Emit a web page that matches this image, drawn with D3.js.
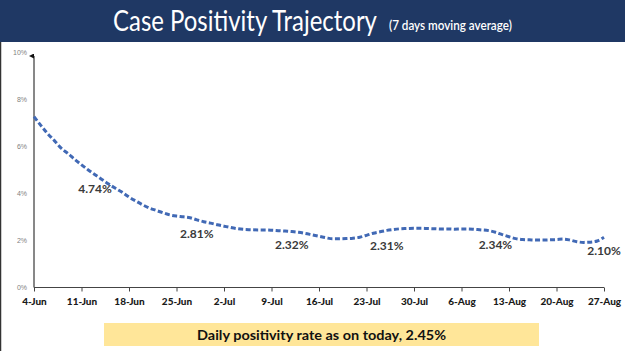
<!DOCTYPE html>
<html><head><meta charset="utf-8">
<script src="https://cdn.jsdelivr.net/npm/d3@7"></script>
<style>body{margin:0;background:#fff}svg{display:block}</style>
</head><body><svg id="c" width="625" height="351"></svg>
<script>
// ---- data ----
const tickLabels = ["4-Jun","11-Jun","18-Jun","25-Jun","2-Jul","9-Jul","16-Jul","23-Jul","30-Jul","6-Aug","13-Aug","20-Aug","27-Aug"];
const tickDays = [0,7,14,21,28,35,42,49,56,63,70,77,84];
// 7-day moving average positivity (%), one value per day from 4-Jun to 27-Aug
const positivity = [
  7.27,6.90,6.55,6.25,5.93,5.70,5.45,5.22,5.00,4.80,
  4.60,4.40,4.22,4.05,3.85,3.68,3.52,3.38,3.28,3.18,
  3.09,3.04,3.01,2.97,2.88,2.80,2.74,2.67,2.61,2.55,
  2.50,2.47,2.46,2.45,2.45,2.44,2.42,2.40,2.38,2.35,
  2.30,2.24,2.18,2.12,2.07,2.07,2.08,2.10,2.14,2.22,
  2.31,2.37,2.43,2.47,2.50,2.51,2.52,2.52,2.51,2.50,
  2.49,2.49,2.48,2.49,2.49,2.47,2.45,2.42,2.35,2.25,
  2.16,2.08,2.04,2.03,2.02,2.02,2.03,2.04,2.06,2.02,
  1.95,1.92,1.93,1.98,2.14
];
const labelDays = [9,24,38,52,68,84];
const labelValues = [4.74,2.81,2.32,2.31,2.34,2.10];
const yTicks = [0,2,4,6,8,10];
const titleText = "Case Positivity Trajectory";
const subtitleText = "(7 days moving average)";
const bannerText = "Daily positivity rate as on today, 2.45%";

// ---- drawing ----
const svg = d3.select("#c");
const x = d3.scaleLinear().domain([0,84]).range([34,604]);
const y = d3.scaleLinear().domain([0,10]).range([287.5,52.5]);

// fit text horizontally to a target width by scaling its group
function fitText(gx, gy, width, size, weight, fill, str){
  const g = svg.append("g");
  const t = g.append("text").attr("x",0).attr("y",0).attr("fill",fill)
    .attr("font-family","Lato, 'Open Sans', sans-serif").attr("font-size",size)
    .attr("font-weight",weight).text(str);
  const w = t.node().getComputedTextLength();
  g.attr("transform",`translate(${gx},${gy}) scale(${width/w},1)`);
  return g;
}

// header
svg.append("rect").attr("x",0).attr("y",0).attr("width",625).attr("height",42).attr("fill","#1f3864");
svg.append("line").attr("x1",0.5).attr("x2",0.5).attr("y1",42).attr("y2",351).attr("stroke","#333").attr("stroke-width",1.5);
fitText(113,31,264,28,400,"#fff",titleText);
fitText(389,30,123,12.5,600,"#fff",subtitleText);

// defs arrow
svg.append("defs").append("marker").attr("id","arr").attr("viewBox","0 0 10 10")
  .attr("refX",5).attr("refY",10).attr("markerWidth",5).attr("markerHeight",5)
  .attr("orient","auto-start-reverse").attr("markerUnits","userSpaceOnUse")
  .append("path").attr("d","M0,10 L5,0 L10,10 Z").attr("fill","#111");

// y axis
const ya = svg.append("g").attr("transform","translate(34,0)")
  .call(d3.axisLeft(y).tickValues(yTicks).tickSize(0).tickPadding(7).tickFormat(d=>d+"%"));
ya.select(".domain").remove();
ya.selectAll("text").attr("fill","#7f7f7f").attr("font-family","'Liberation Sans', Arial, sans-serif").attr("font-size",7);
svg.append("line").attr("x1",34).attr("x2",34).attr("y1",287.5).attr("y2",56)
  .attr("stroke","#111").attr("stroke-width",1).attr("marker-end","url(#arr)");

// x axis
const xa = svg.append("g").attr("transform","translate(0,287.5)")
  .call(d3.axisBottom(x).tickValues(tickDays).tickSize(4).tickPadding(6).tickFormat((d,i)=>tickLabels[i]));
xa.select(".domain").attr("stroke","#444").attr("d","M34,0H604");
xa.selectAll(".tick line").attr("stroke","#444");
xa.selectAll("text").attr("fill","#1a1a1a").attr("font-family","Lato, sans-serif").attr("font-weight",900).attr("font-size",10);

// line
const line = d3.line().x((d,i)=>x(i)).y(d=>y(d)).curve(d3.curveMonotoneX);
svg.append("path").datum(positivity).attr("d",line).attr("fill","none")
  .attr("stroke","#4169b5").attr("stroke-width",3).attr("stroke-dasharray","5,2.5");

// labels
svg.selectAll(".lbl").data(labelValues).enter().append("text").attr("class","lbl")
  .attr("x",(d,i)=>x(labelDays[i])).attr("y",d=>y(d)+16.5)
  .attr("text-anchor","middle").attr("fill","#3a3a3a")
  .attr("font-family","Lato, sans-serif").attr("font-weight",700).attr("font-size",12)
  .text(d=>d.toFixed(2)+"%");

// banner
svg.append("rect").attr("x",104).attr("y",323).attr("width",435).attr("height",23).attr("fill","#ffe699");
svg.append("text").attr("x",321.5).attr("y",339.5).attr("text-anchor","middle").attr("fill","#111")
  .attr("font-family","Lato, sans-serif").attr("font-weight",700).attr("font-size",14)
  .attr("textLength",249).attr("lengthAdjust","spacingAndGlyphs").text(bannerText);
</script></body></html>
